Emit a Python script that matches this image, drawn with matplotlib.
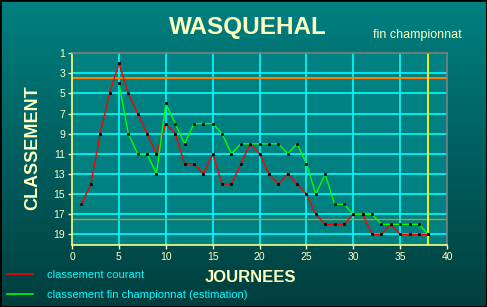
import numpy as np
import matplotlib
matplotlib.use("Agg")
import matplotlib.pyplot as plt
from matplotlib.patches import Rectangle

plt.rcParams['font.family'] = ['Liberation Sans', 'DejaVu Sans']

# classement courant, journees 1..38
days_courant = list(range(1, 39))
courant = [16, 14, 9, 5, 2, 5, 7, 9, 11, 8, 9, 12, 12, 13, 11, 14, 14, 12, 10, 11,
           13, 14, 13, 14, 15, 17, 18, 18, 18, 17, 17, 19, 19, 18, 19, 19, 19, 19]
# classement fin championnat (estimation), journees 5..38
days_estim = list(range(5, 39))
estim = [4, 9, 11, 11, 13, 6, 8, 10, 8, 8, 8, 9, 11, 10, 10, 10, 10, 10, 11, 10,
         12, 15, 13, 16, 16, 17, 17, 17, 18, 18, 18, 18, 18, 19]

x_ticks = [0, 5, 10, 15, 20, 25, 30, 35, 40]
y_ticks = [1, 3, 5, 7, 9, 11, 13, 15, 17, 19]
limit_lines = [3.5, 17.5]
current_day = 38

YEL = '#FFFFC0'

fig = plt.figure(figsize=(4.87, 3.07), dpi=100)

# background gradient
bg = fig.add_axes([0, 0, 1, 1], zorder=0)
grad = np.linspace(0, 1, 256).reshape(-1, 1)
top = np.array([0, 128, 128]) / 255
bot = np.array([0, 62, 62]) / 255
img = top[None, None, :] * (1 - grad[:, :, None]) + bot[None, None, :] * grad[:, :, None]
bg.imshow(img, aspect='auto', extent=[0, 1, 0, 1])
bg.set_axis_off()

ax = fig.add_axes([0.148, 0.202, 0.770, 0.625], zorder=1)
ax.set_facecolor('#008080')

for v in x_ticks[1:-1]:
    ax.axvline(v, color='#00FFFF', lw=1.2, zorder=1)
for v in y_ticks[1:]:
    ax.axhline(v, color='#00FFFF', lw=1.2, zorder=1)
ax.axhline(limit_lines[0], color='#FF8000', lw=1.5, zorder=2)
ax.axhline(limit_lines[1], color='#D09020', lw=1.0, zorder=2)
ax.axvline(current_day, color='#FFFF00', lw=1.3, zorder=2)

ax.plot(days_courant, courant, color='#FF0000', lw=1.0, zorder=3,
        marker='s', ms=1.7, mfc='black', mec='black', mew=0.5)
ax.plot(days_estim, estim, color='#00FF00', lw=1.0, zorder=4,
        marker='s', ms=1.7, mfc='black', mec='black', mew=0.5)

ax.set_xlim(0, 40)
ax.set_ylim(20.05, 1)
ax.set_xticks(x_ticks)
ax.set_yticks(y_ticks)
ax.tick_params(colors=YEL, labelsize=7.5, length=3, width=1, direction='out', pad=2)
for s in ['left', 'bottom']:
    ax.spines[s].set_color('#FFFF80')
    ax.spines[s].set_linewidth(1.2)
for s in ['top', 'right']:
    ax.spines[s].set_color('#808080')
    ax.spines[s].set_linewidth(1.2)

fig.text(0.509, 0.912, 'WASQUEHAL', color=YEL, fontsize=17.5, fontweight='bold',
         ha='center', va='center')
fig.text(0.857, 0.885, 'fin championnat', color=YEL, fontsize=9,
         ha='center', va='center')
fig.text(0.068, 0.518, 'CLASSEMENT', color=YEL, fontsize=13, fontweight='bold',
         rotation=90, ha='center', va='center')
fig.text(0.514, 0.096, 'JOURNEES', color=YEL, fontsize=12, fontweight='bold',
         ha='center', va='center')

# legend
fig.add_artist(plt.Line2D([7 / 487, 33 / 487], [1 - 274.3 / 307] * 2, color='#FF0000', lw=1.2))
fig.add_artist(plt.Line2D([7 / 487, 33 / 487], [1 - 293.7 / 307] * 2, color='#00FF00', lw=1.2))
fig.text(47 / 487, 1 - 275.5 / 307, 'classement courant', color='#00FFFF', fontsize=8,
         ha='left', va='center')
fig.text(47 / 487, 1 - 294.5 / 307, 'classement fin championnat (estimation)',
         color='#00FFFF', fontsize=8, ha='left', va='center')

fig.add_artist(Rectangle((0, 0), 1, 1, transform=fig.transFigure, fill=False,
                         edgecolor='black', lw=2))

fig.savefig('out.png', dpi=100)
